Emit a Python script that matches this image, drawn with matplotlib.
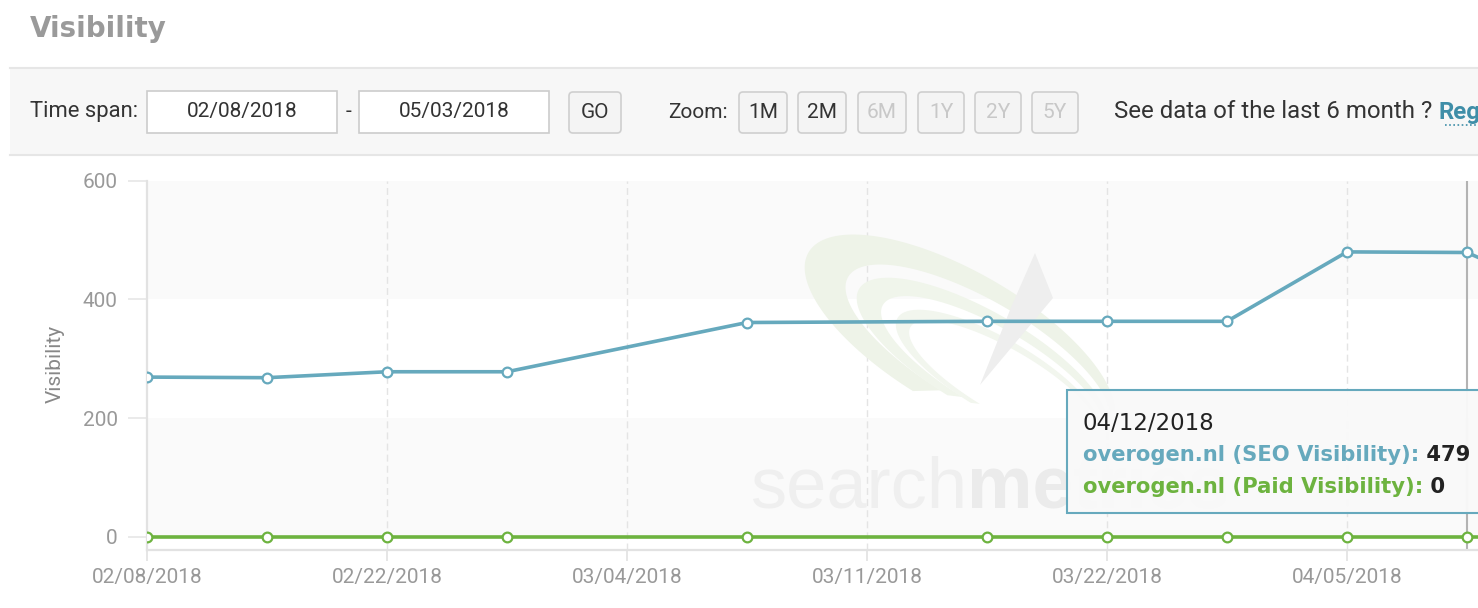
import numpy as np
import matplotlib
matplotlib.use('Agg')
import matplotlib.pyplot as plt
from matplotlib.patches import Rectangle, FancyBboxPatch, Polygon
from matplotlib.transforms import Affine2D

# data (weekly categories, None = no value, line connects over gaps)
dates = ['02/08/2018', '02/15/2018', '02/22/2018', '03/01/2018', '03/04/2018',
         '03/08/2018', '03/11/2018', '03/15/2018', '03/22/2018', '03/29/2018',
         '04/05/2018', '04/12/2018', '04/19/2018']
seo = [269, 268, 278, 278, None, 361, None, 363, 363, 363, 480, 479, 390]
paid = [0, 0, 0, 0, None, 0, None, 0, 0, 0, 0, 0, 0]
y_ticks = [0, 200, 400, 600]
label_every = 2
hover = 11

span_from, span_to = '02/08/2018', '05/03/2018'
zoom_btns = ['1M', '2M', '6M', '1Y', '2Y', '5Y']
zoom_on = [True, True, False, False, False, False]

BLUE = '#66a9bd'
GREEN = '#6db33f'
UI = 'Roboto'

W, H = 1478, 608
fig = plt.figure(figsize=(W / 100, H / 100), dpi=100)
pix = Affine2D().scale(1 / W, -1 / H).translate(0, 1) + fig.transFigure

# title + toolbar
fig.text(30, 29, 'Visibility', transform=pix, fontsize=20, fontweight='bold',
         color='#9a9a9a', va='center', ha='left', family='DejaVu Sans')
fig.add_artist(Rectangle((10, 68), W, 87, transform=pix, fc='#f7f7f7', ec='none'))
for yy in (68, 155):
    fig.add_artist(plt.Line2D([10, W], [yy, yy], transform=pix, color='#e6e6e6', lw=1.5))

def txt(x, y, s, **kw):
    kw.setdefault('family', UI)
    kw.setdefault('fontsize', 15)
    kw.setdefault('color', '#333333')
    kw.setdefault('va', 'center')
    return fig.text(x, y, s, transform=pix, **kw)

txt(30, 112, 'Time span:', fontsize=15.8)
for x0, s in ((147, span_from), (359, span_to)):
    fig.add_artist(Rectangle((x0, 91), 190, 42, transform=pix, fc='white', ec='#cccccc', lw=1.2))
    txt(x0 + 95, 112, s, ha='center')
txt(348, 112, '-', ha='center')

def button(x0, x1, s, on=True):
    fig.add_artist(FancyBboxPatch((x0, 92), x1 - x0, 41, transform=pix,
                                  boxstyle='round,pad=0,rounding_size=4',
                                  fc='#f4f4f4', ec='#cfcfcf', lw=1.2))
    txt((x0 + x1) / 2, 112, s, ha='center', color='#333333' if on else '#c8c8c8')

button(569, 621, 'GO')
txt(668, 112, 'Zoom:')
btn_x = [(739, 787), (798, 846), (858, 906), (918, 964), (975, 1021), (1032, 1078)]
for (a, b), s, on in zip(btn_x, zoom_btns, zoom_on):
    button(a, b, s, on)
t_see = txt(1114, 112, 'See data of the last 6 month ? ', fontsize=17.3)
fig.add_artist(matplotlib.text.Annotation('Register', xy=(1, 0.5), xycoords=t_see,
                                           va='center', ha='left', family=UI, fontsize=17.3,
                                           fontweight='bold', color='#3f8ea8'))
fig.add_artist(plt.Line2D([1445, W], [125, 125], transform=pix, color='#3f8ea8',
                          lw=1.2, ls=(0, (1, 1.5))))

# chart axes
x_left, x_step = 147, 120
y0_px, px_per = 536.7, 356.0 / 600
ax_bottom, ax_top = 550, 180.7
ax = fig.add_axes([x_left / W, 1 - ax_bottom / H, 1 - x_left / W, (ax_bottom - ax_top) / H])
ax.set_facecolor('none')

ax.axhspan(0, 200, color='#fafafa', zorder=0, lw=0)
ax.axhspan(400, 600, color='#fafafa', zorder=0, lw=0)
for i in range(label_every, len(dates) - 1, label_every):
    ax.axvline(i, color='#e4e4e4', lw=1, ls=(0, (5, 3)), zorder=0.5)

# faint watermark logo: crescents between two tilted ellipses
def ell(cx, cy, a, b, t):
    c, s = np.cos(np.radians(30)), np.sin(np.radians(30))
    return np.column_stack([cx + a * np.cos(t) * c - b * np.sin(t) * s,
                            cy + a * np.cos(t) * s + b * np.sin(t) * c])

t = np.radians(np.linspace(95, 345, 120))
for outer, inner, col in (((960, 340, 175, 68), (978, 352, 150, 52), '#eef3e8'),
                          ((982, 360, 142, 48), (992, 368, 126, 40), '#f0f5eb'),
                          ((998, 376, 116, 37), (1004, 381, 108, 32), '#f2f6ee')):
    pts = np.vstack([ell(*outer, t), ell(*inner, t[::-1])])
    ax.add_artist(Polygon(pts, closed=True, transform=pix, fc=col, ec='none', zorder=0.6))
ax.add_artist(Polygon([[1035, 253], [1053, 298], [980, 385], [1012, 305]], closed=True,
                      transform=pix, fc='#eeeeee', ec='none', zorder=0.65))
wm = ax.text(750, 507, 'search', transform=pix, fontsize=52, color='#efefef',
             family='Liberation Sans', va='baseline', zorder=0.7)
ax.annotate('metrics', xy=(1, 0), xycoords=wm, va='bottom', fontsize=53,
            fontweight='bold', color='#ebebeb', family='Liberation Sans', zorder=0.7)

xs = np.arange(len(dates))
for vals, col in ((paid, GREEN), (seo, BLUE)):
    ok = [v is not None for v in vals]
    ax.plot(xs[ok], [v for v in vals if v is not None], color=col, lw=2.6,
            marker='o', ms=7, mfc='white', mec=col, mew=1.6, zorder=3)

ax.axvline(hover, color='#b3b3b3', lw=1.5, zorder=2)

for s in ('top', 'right'):
    ax.spines[s].set_visible(False)
for s in ('left', 'bottom'):
    ax.spines[s].set_color('#e2e2e2')
    ax.spines[s].set_linewidth(1.6)

ax.set_yticks(y_ticks)
ax.tick_params(axis='y', length=14, width=1.2, color='#e6e6e6', pad=7,
               labelsize=15, labelcolor='#999999')
tick_idx = xs[:-1:label_every]
ax.set_xticks(tick_idx)
ax.set_xticklabels([dates[i] for i in tick_idx])
ax.tick_params(axis='x', length=8, width=1.2, color='#e2e2e2', pad=5,
               labelsize=15, labelcolor='#999999')
for lab in ax.get_xticklabels() + ax.get_yticklabels():
    lab.set_family(UI)
ax.set_ylabel('Visibility', color='#888888', fontsize=15, family=UI)
ax.yaxis.set_label_coords(65, 364, transform=pix)

ax.set_xlim(0, (W - x_left) / x_step)
ax.set_ylim(-(ax_bottom - y0_px) / px_per, 600)

# tooltip
top = fig.add_axes([0, 0, 1, 1], zorder=10)
top.set_xlim(0, W)
top.set_ylim(H, 0)
top.axis('off')
top.add_patch(Rectangle((1067, 390), 430, 123, fc=(0.976, 0.976, 0.976, 0.96),
                        ec=BLUE, lw=1.5))
top.text(1083, 423, dates[hover], fontsize=16.5, color='#222222', va='center',
         family='DejaVu Sans')
r1 = top.text(1083, 455, 'overogen.nl (SEO Visibility):', fontsize=15.2, fontweight='bold',
              color=BLUE, va='center', family='DejaVu Sans')
top.annotate(' ' + str(seo[hover]), xy=(1, 0.5), xycoords=r1, va='center', fontsize=15.2,
             fontweight='bold', color='#222222', family='DejaVu Sans')
r2 = top.text(1083, 487, 'overogen.nl (Paid Visibility):', fontsize=15.2, fontweight='bold',
              color=GREEN, va='center', family='DejaVu Sans')
top.annotate(' ' + str(paid[hover]), xy=(1, 0.5), xycoords=r2, va='center', fontsize=15.2,
             fontweight='bold', color='#222222', family='DejaVu Sans')

fig.savefig('out.png', dpi=100)
